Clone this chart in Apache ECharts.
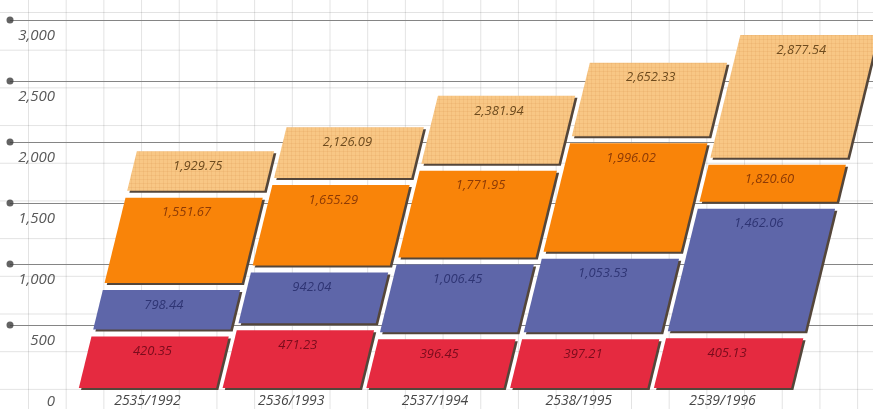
<!DOCTYPE html>
<html>
<head>
<meta charset="utf-8">
<script src="https://cdn.jsdelivr.net/npm/echarts@6/dist/echarts.min.js"></script>
<style>
html,body{margin:0;padding:0;}
body{
  background-color:#fff;
  background-image:
    linear-gradient(to right, rgba(0,0,0,0.11) 1px, transparent 1px),
    linear-gradient(to bottom, rgba(0,0,0,0.11) 1px, transparent 1px);
  background-size:37.7px 37.7px;
  background-position:28px 12px;
}
#main{width:873px;height:409px;}
</style>
</head>
<body>
<div id="main"></div>
<script>
// values are running totals, each band goes from the previous total up to its own
let categories=['2535/1992','2536/1993','2537/1994','2538/1995','2539/1996']
let redTop=[420.35,471.23,396.45,397.21,405.13]
let blueTop=[798.44,942.04,1006.45,1053.53,1462.06]
let orangeTop=[1551.67,1655.29,1771.95,1996.02,1820.60]
let paleTop=[1929.75,2126.09,2381.94,2652.33,2877.54]
let yTicks=[0,500,1000,1500,2000,2500,3000]

const SKEW=0.245
const GAP=7

function fmt(v){
  return v.toLocaleString('en-US',{minimumFractionDigits:2,maximumFractionDigits:2})
}

// faint graph-paper pattern for the pale band
function paperPattern(){
  let c=document.createElement('canvas')
  c.width=4;c.height=4
  let g=c.getContext('2d')
  g.fillStyle='#f8c785'
  g.fillRect(0,0,4,4)
  g.fillStyle='rgba(205,135,60,0.13)'
  g.fillRect(3,0,1,4)
  g.fillRect(0,3,4,1)
  return {image:c,repeat:'repeat'}
}

function makeRender(fill,textColor){
  return function(params,api){
    let i=api.value(0)
    let low=api.value(1),high=api.value(2)
    let base=api.coord([i,0])
    let yTop=api.coord([i,high])[1]
    let yBot=api.coord([i,low])[1]-(low>0?GAP:0)
    let w=api.size([1,0])[0]*0.955
    let sx=function(y,side){return base[0]+side*w/2+SKEW*(base[1]-y)}
    let pts=[[sx(yBot,-1),yBot],[sx(yBot,1),yBot],[sx(yTop,1),yTop],[sx(yTop,-1),yTop]]
    let shadow=pts.map(function(p){return [p[0]+2.2,p[1]+2]})
    let ly=yTop+15
    return {
      type:'group',
      children:[
        {type:'polygon',shape:{points:shadow},style:{fill:'#54463a'}},
        {type:'polygon',shape:{points:pts},style:{fill:fill}},
        {type:'text',x:sx(ly,0)-4,y:ly,style:{
          text:fmt(high),fill:textColor,
          font:'italic 13px "Open Sans"',
          textAlign:'center',textVerticalAlign:'middle'
        }}
      ]
    }
  }
}

function band(lowArr,highArr){
  return highArr.map(function(v,i){return [i,lowArr?lowArr[i]:0,v]})
}

let chart=echarts.init(document.getElementById('main'))
chart.setOption({
  animation:false,
  grid:[
    {left:75.6,right:78.6,top:20,bottom:21},
    {left:10,right:0,top:20,bottom:21}
  ],
  xAxis:[
    {
      type:'category',gridIndex:0,data:categories,
      axisLine:{show:false},axisTick:{show:false},
      axisLabel:{color:'#474747',fontStyle:'italic',fontSize:14,fontFamily:'Open Sans',margin:6}
    },
    {type:'value',gridIndex:1,min:0,max:1,show:false}
  ],
  yAxis:[
    {type:'value',gridIndex:0,min:0,max:3000,show:false},
    {
      type:'value',gridIndex:1,min:0,max:3000,interval:500,
      axisLine:{show:false},axisTick:{show:false},
      splitLine:{show:true,showMinLine:false,lineStyle:{color:'#858585',width:1}},
      axisLabel:{
        inside:true,margin:45,align:'right',verticalAlign:'top',padding:[8,0,0,0],
        color:'#595959',fontStyle:'italic',fontSize:15,fontFamily:'Open Sans',
        formatter:function(v){return v.toLocaleString('en-US')}
      }
    }
  ],
  series:[
    {
      type:'scatter',xAxisIndex:1,yAxisIndex:1,silent:true,clip:false,
      symbolSize:7,itemStyle:{color:'#3c3c3c'},
      data:yTicks.filter(function(v){return v>0}).map(function(v){return [0,v]})
    },
    {type:'custom',renderItem:makeRender('#e52a40','#7a0c1c'),encode:{x:0,y:[1,2]},data:band(null,redTop)},
    {type:'custom',renderItem:makeRender('#5e66a9','#2f3574'),encode:{x:0,y:[1,2]},data:band(redTop,blueTop)},
    {type:'custom',renderItem:makeRender('#f98409','#8c3a06'),encode:{x:0,y:[1,2]},data:band(blueTop,orangeTop)},
    {type:'custom',renderItem:makeRender(paperPattern(),'#6e4b1e'),encode:{x:0,y:[1,2]},data:band(orangeTop,paleTop)}
  ]
})
</script>
</body>
</html>
